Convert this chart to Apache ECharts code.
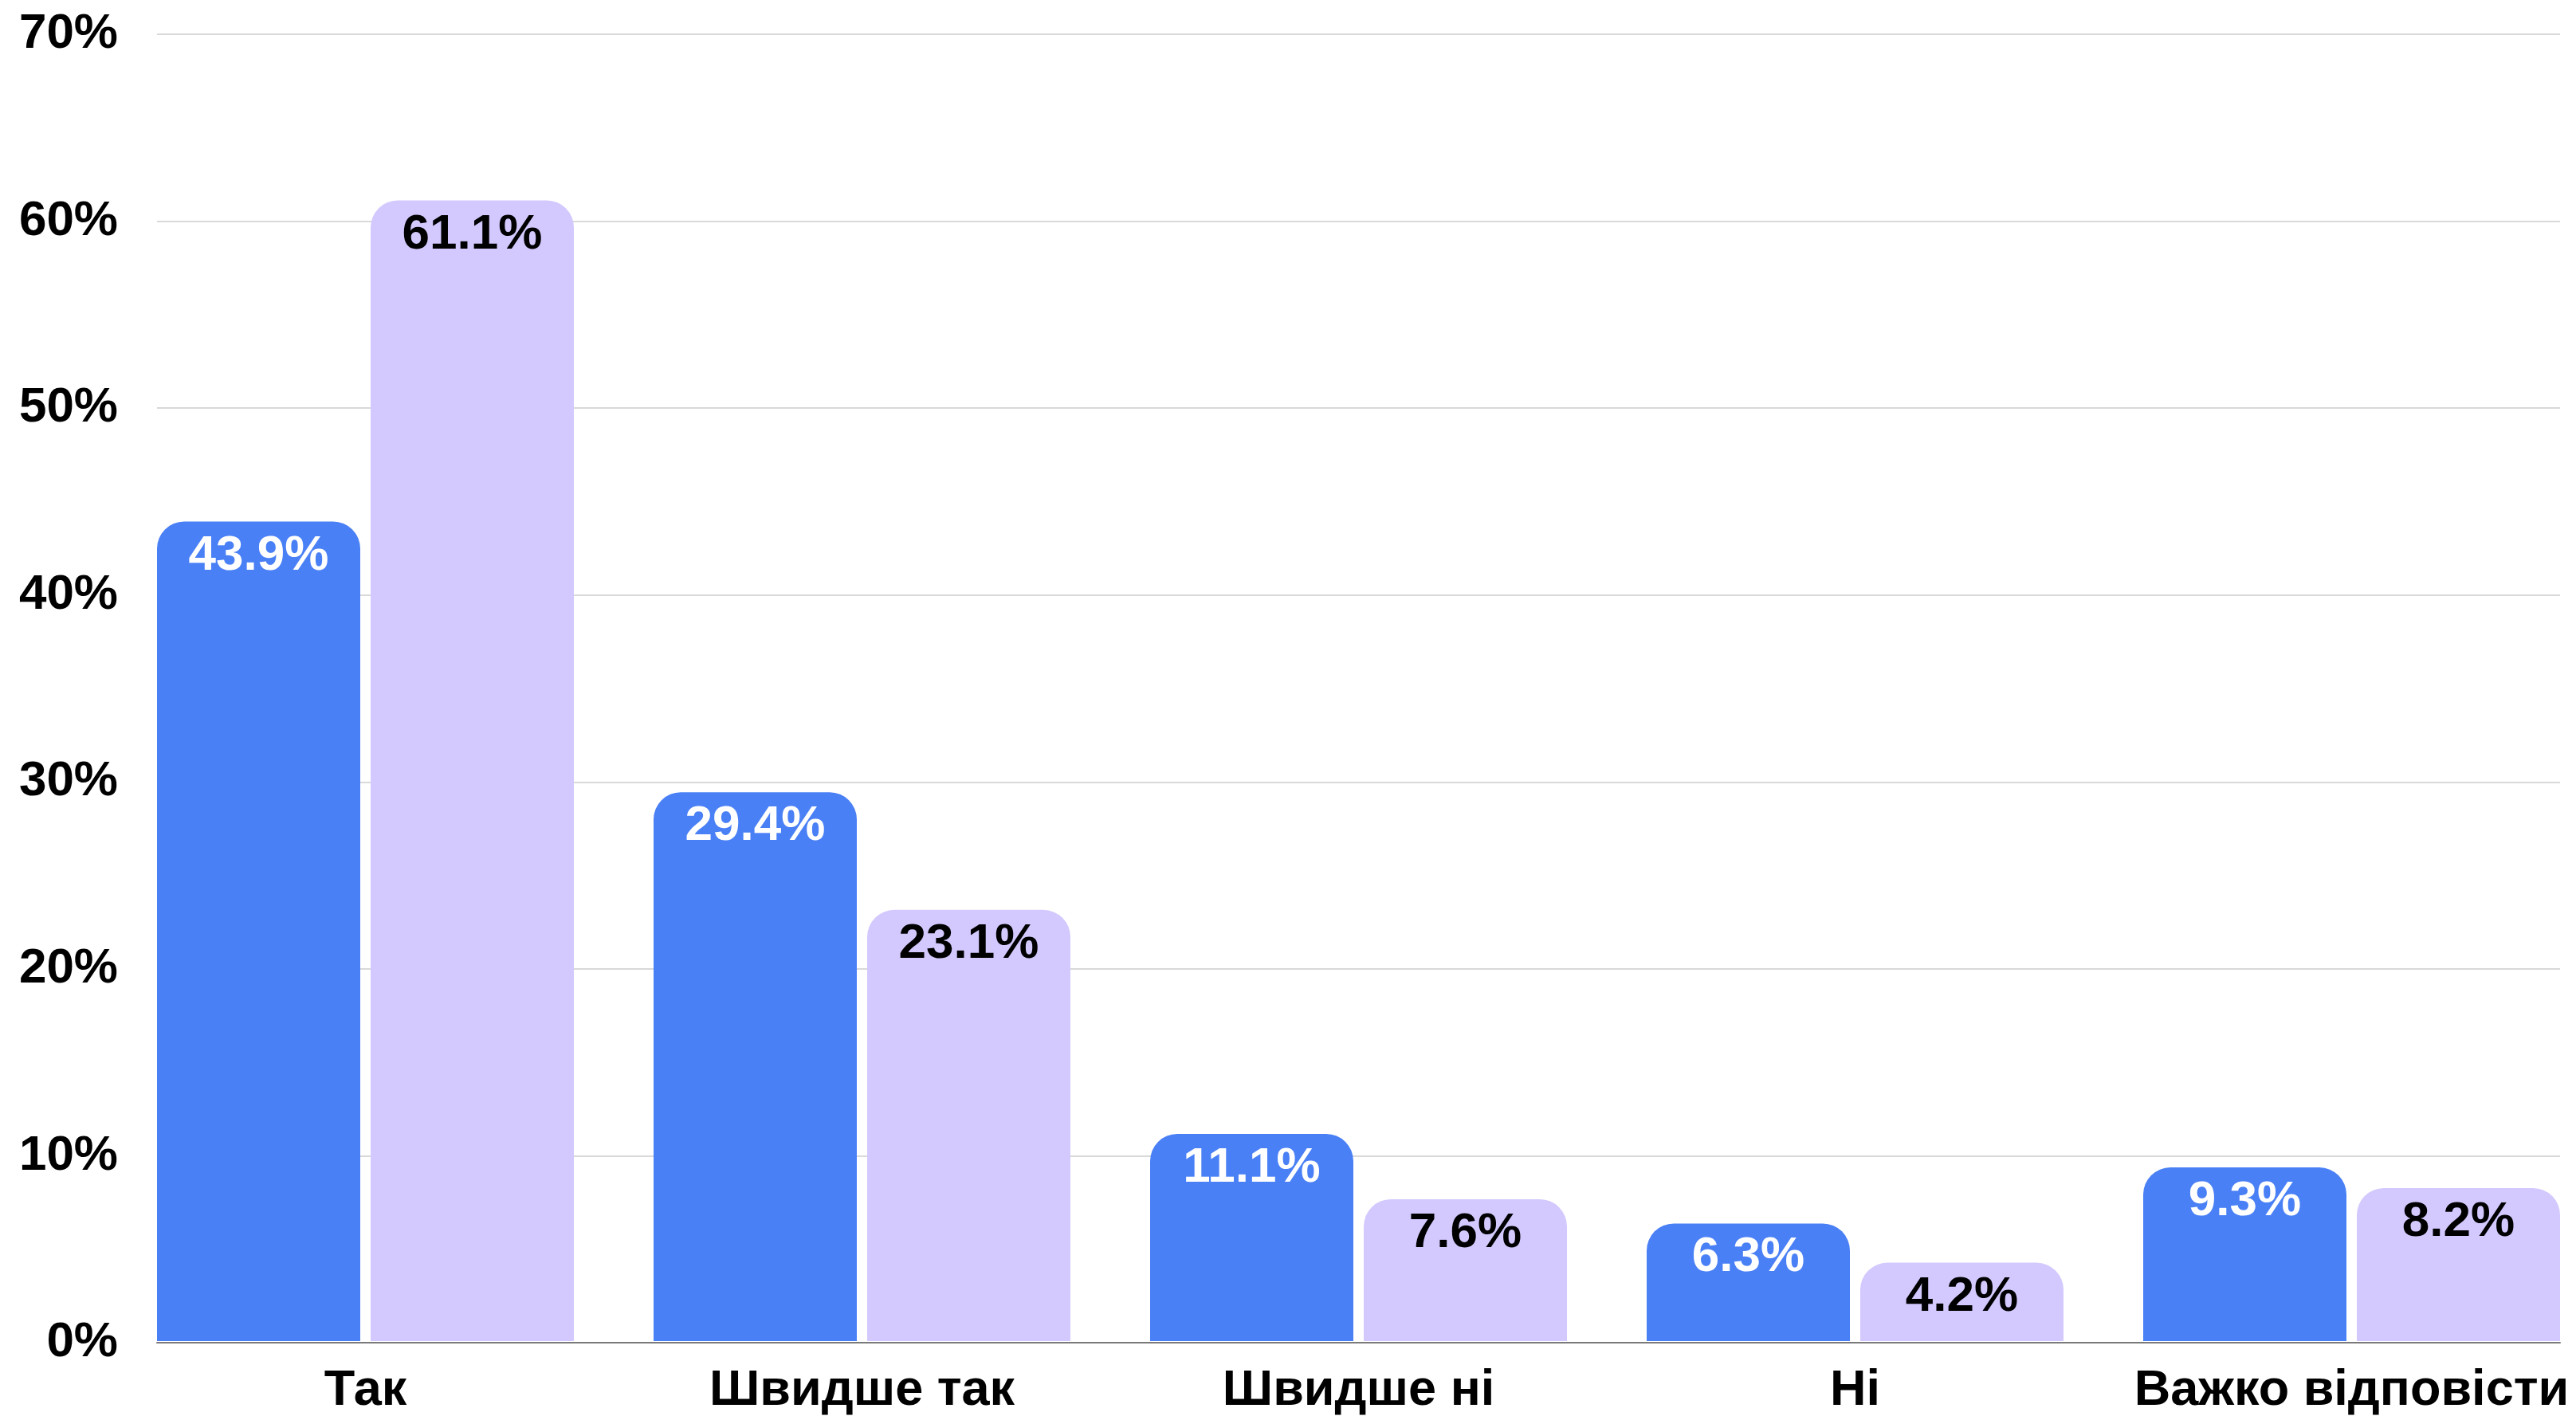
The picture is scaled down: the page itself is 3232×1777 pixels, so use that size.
<!DOCTYPE html>
<html>
<head>
<meta charset="utf-8">
<script src="https://cdn.jsdelivr.net/npm/echarts@6/dist/echarts.min.js"></script>
<style>
  html, body { margin: 0; padding: 0; background: #fff; overflow: hidden; width: 3232px; height: 1777px; }
  /* canvas a little wider than the page so the last category band can run past the edge */
  #chart { width: 3262px; height: 1777px; }
</style>
</head>
<body>
<div id="chart"></div>
<script>
const categories = ['Так', 'Швидше так', 'Швидше ні', 'Ні', 'Важко відповісти']
const seriesBlue = [43.9, 29.4, 11.1, 6.3, 9.3]
const seriesPurple = [61.1, 23.1, 7.6, 4.2, 8.2]
const yTicks = { min: 0, max: 70, interval: 10 }

const font = 'Liberation Sans, Arial, sans-serif'

const myChart = echarts.init(document.getElementById('chart'))

function barLabel(color) {
  return {
    show: true,
    position: 'insideTop',
    distance: 12,
    color: color,
    fontFamily: font,
    fontWeight: 'bold',
    fontSize: 62,
    formatter: p => p.value.toFixed(1) + '%'
  }
}

const option = {
  backgroundColor: '#fff',
  animation: false,
  grid: [
    // bars + category labels
    { left: 147, right: 0, top: 43, bottom: 92 },
    // gridlines + value labels + base line
    { left: 197, right: 50, top: 43, bottom: 92 }
  ],
  xAxis: [
    {
      type: 'category',
      gridIndex: 0,
      data: categories,
      axisLine: { show: false },
      axisTick: { show: false },
      axisLabel: {
        color: '#000',
        fontFamily: font,
        fontWeight: 'bold',
        fontSize: 63,
        margin: 31,
        interval: 0
      }
    },
    {
      type: 'category',
      gridIndex: 1,
      data: categories,
      axisLine: { show: true, lineStyle: { color: '#7a7a7a', width: 2 } },
      axisTick: { show: false },
      axisLabel: { show: false }
    }
  ],
  yAxis: [
    {
      type: 'value',
      gridIndex: 0,
      min: yTicks.min,
      max: yTicks.max,
      interval: yTicks.interval,
      show: false,
      splitLine: { show: false }
    },
    {
      type: 'value',
      gridIndex: 1,
      min: yTicks.min,
      max: yTicks.max,
      interval: yTicks.interval,
      axisLine: { show: false },
      axisTick: { show: false },
      axisLabel: {
        color: '#000',
        fontFamily: font,
        fontWeight: 'bold',
        fontSize: 62,
        margin: 49,
        formatter: v => v + '%'
      },
      splitLine: { lineStyle: { color: '#cccccc', width: 1.5 } }
    }
  ],
  series: [
    {
      name: 'Синій',
      type: 'bar',
      xAxisIndex: 0,
      yAxisIndex: 0,
      data: seriesBlue,
      barWidth: 255,
      barGap: '5.1%',
      itemStyle: { color: '#4a80f6', borderRadius: [34, 34, 0, 0] },
      label: barLabel('#fff')
    },
    {
      name: 'Бузковий',
      type: 'bar',
      xAxisIndex: 0,
      yAxisIndex: 0,
      data: seriesPurple,
      barWidth: 255,
      barGap: '5.1%',
      itemStyle: { color: '#d3c9fe', borderRadius: [34, 34, 0, 0] },
      label: barLabel('#000')
    }
  ]
}

myChart.setOption(option)
</script>
</body>
</html>
